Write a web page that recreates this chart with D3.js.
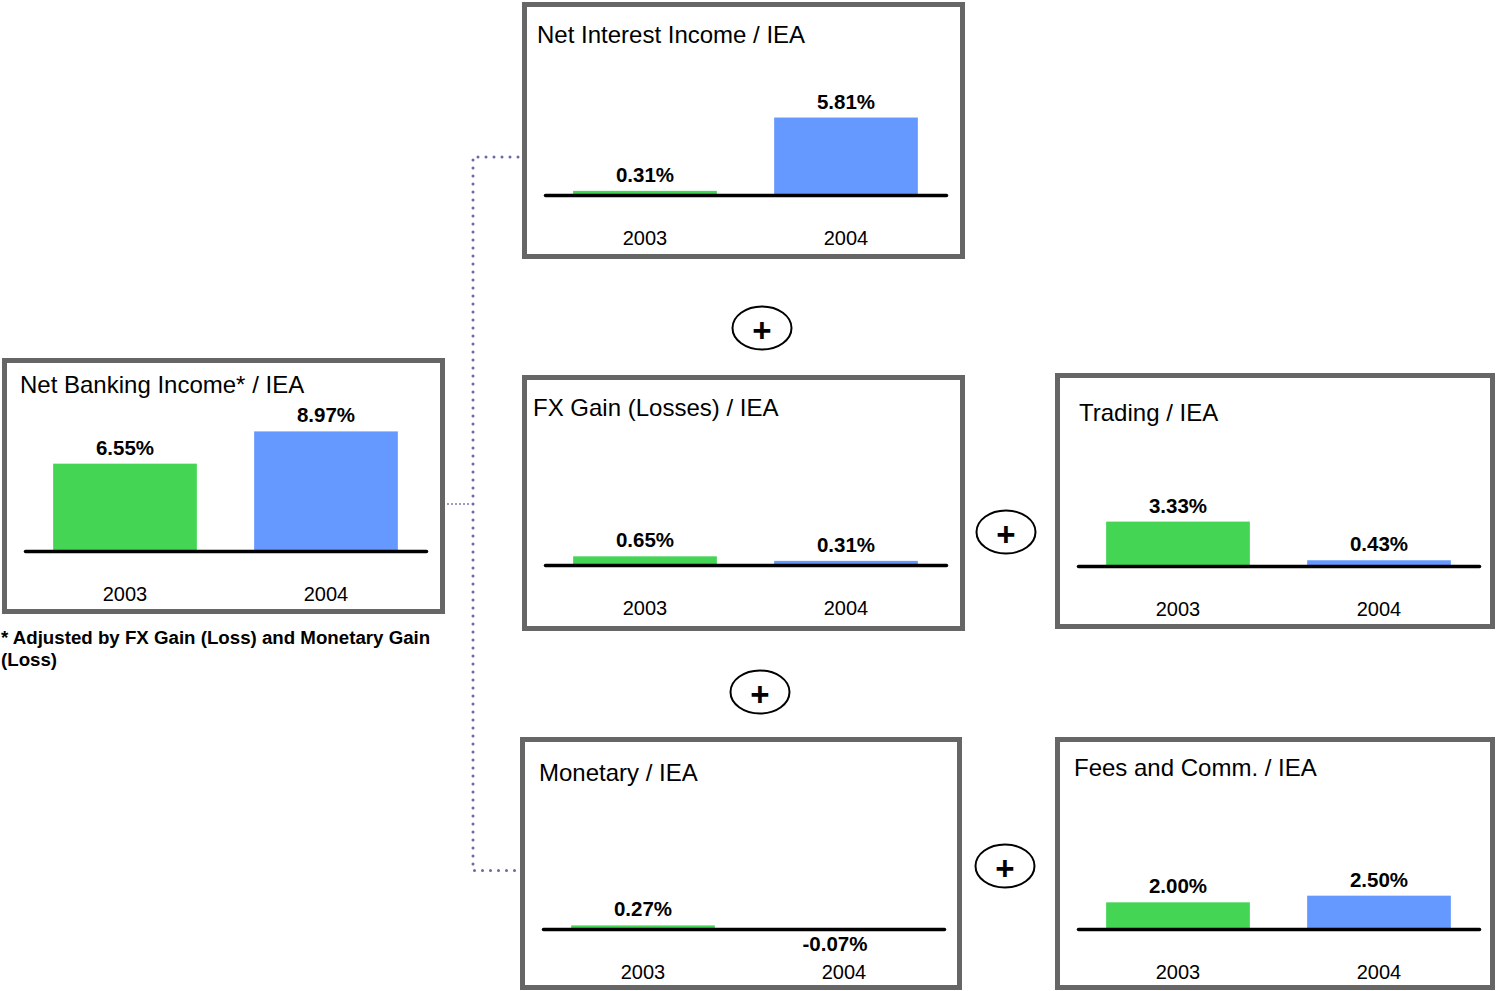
<!DOCTYPE html>
<html>
<head>
<meta charset="utf-8">
<script src="https://cdn.jsdelivr.net/npm/d3@7"></script>
<style>
body { margin: 0; background: #fff; }
svg { display: block; font-family: "Liberation Sans", Arial, sans-serif; }
</style>
</head>
<body>
<svg id="chart" width="1496" height="991"></svg>
<script>
// data
var years = ["2003", "2004"];
var titles = [
    "Net Banking Income* / IEA",
    "Net Interest Income / IEA",
    "FX Gain (Losses) / IEA",
    "Trading / IEA",
    "Monetary / IEA",
    "Fees and Comm. / IEA"
];
var nbiValues = [6.55, 8.97];
var niiValues = [0.31, 5.81];
var fxValues = [0.65, 0.31];
var tradingValues = [3.33, 0.43];
var monetaryValues = [0.27, -0.07];
var feesValues = [2.00, 2.50];
var footnote = ["* Adjusted by FX Gain (Loss) and Monetary Gain", "(Loss)"];

var barColors = ["#44d555", "#6699ff"];

// panel boxes (outer edges), title offset and axis offset
var panels = [
    {title: titles[0], values: nbiValues,      x0: 2,    y0: 358, x1: 445,  y1: 614, tx: 18, ty: 35, ay: 193},
    {title: titles[1], values: niiValues,      x0: 522,  y0: 2,   x1: 965,  y1: 259, tx: 15, ty: 41, ay: 193},
    {title: titles[2], values: fxValues,       x0: 522,  y0: 375, x1: 965,  y1: 631, tx: 11, ty: 41, ay: 190},
    {title: titles[3], values: tradingValues,  x0: 1055, y0: 373, x1: 1495, y1: 629, tx: 24, ty: 48, ay: 193},
    {title: titles[4], values: monetaryValues, x0: 520,  y0: 737, x1: 962,  y1: 990, tx: 19, ty: 44, ay: 192},
    {title: titles[5], values: feesValues,     x0: 1055, y0: 737, x1: 1495, y1: 990, tx: 19, ty: 39, ay: 192}
];

var plusSigns = [
    {cx: 762, cy: 328},
    {cx: 760, cy: 692},
    {cx: 1006, cy: 532},
    {cx: 1005, cy: 866}
];

var svg = d3.select("#chart");

// bar heights: same px-per-percent in every panel
var h = d3.scaleLinear().domain([0, 9]).range([0, 120]);

// dotted connector
svg.append("path")
    .attr("d", d3.line()([[518, 157], [473, 157], [473, 870.5], [517, 870.5]]))
    .attr("fill", "none")
    .attr("stroke", "#6a6aaa")
    .attr("stroke-width", 3)
    .attr("stroke-linecap", "round")
    .attr("stroke-dasharray", "0 8");

svg.append("line")
    .attr("x1", 447).attr("x2", 471)
    .attr("y1", 504).attr("y2", 504)
    .attr("stroke", "#7a7ab0")
    .attr("stroke-width", 1.5)
    .attr("stroke-dasharray", "2 2");

panels.forEach(function(p) {
    var g = svg.append("g");

    g.append("rect")
        .attr("x", p.x0 + 2.5)
        .attr("y", p.y0 + 2.5)
        .attr("width", p.x1 - p.x0 - 5)
        .attr("height", p.y1 - p.y0 - 5)
        .attr("fill", "#fff")
        .attr("stroke", "#666")
        .attr("stroke-width", 5);

    g.append("text")
        .attr("x", p.x0 + p.tx)
        .attr("y", p.y0 + p.ty)
        .attr("font-size", 24)
        .attr("fill", "#000")
        .text(p.title);

    var x = d3.scaleBand()
        .domain(years)
        .range([p.x0 + 23, p.x0 + 424])
        .paddingInner(0.285)
        .paddingOuter(0.14);

    var axisY = p.y0 + p.ay;
    var rows = years.map(function(y, i) { return {year: y, value: p.values[i], i: i}; });

    g.selectAll("rect.bar")
        .data(rows)
        .enter().append("rect")
        .attr("class", "bar")
        .attr("x", function(d) { return x(d.year); })
        .attr("width", x.bandwidth())
        .attr("y", function(d) { return d.value >= 0 ? axisY - h(d.value) : axisY; })
        .attr("height", function(d) { return h(Math.abs(d.value)); })
        .attr("fill", function(d) { return barColors[d.i]; });

    var axis = g.append("g")
        .attr("transform", "translate(0," + axisY + ")")
        .call(d3.axisBottom(x).tickSize(0).tickPadding(36));
    axis.attr("font-family", null).attr("font-size", null);
    axis.select(".domain")
        .attr("stroke", "#000")
        .attr("stroke-width", 3.5)
        .attr("stroke-linecap", "round");
    axis.selectAll(".tick text")
        .attr("font-size", 20)
        .attr("fill", "#000");

    g.selectAll("text.val")
        .data(rows)
        .enter().append("text")
        .attr("class", "val")
        .attr("x", function(d) { return x(d.year) + x.bandwidth() / 2; })
        .attr("dx", function(d) { return d.value < 0 ? -9 : 0; })
        .attr("y", function(d) { return d.value >= 0 ? axisY - h(d.value) - 9 : axisY + 22; })
        .attr("text-anchor", "middle")
        .attr("font-size", 20.5)
        .attr("font-weight", "bold")
        .attr("fill", "#000")
        .text(function(d) { return d.value.toFixed(2) + "%"; });
});

// plus signs between the boxes
var plus = svg.selectAll("g.plus")
    .data(plusSigns)
    .enter().append("g")
    .attr("class", "plus");
plus.append("ellipse")
    .attr("cx", function(d) { return d.cx; })
    .attr("cy", function(d) { return d.cy; })
    .attr("rx", 29.5)
    .attr("ry", 21.5)
    .attr("fill", "#fff")
    .attr("stroke", "#000")
    .attr("stroke-width", 2);
plus.append("text")
    .attr("x", function(d) { return d.cx; })
    .attr("y", function(d) { return d.cy + 2; })
    .attr("text-anchor", "middle")
    .attr("dominant-baseline", "central")
    .attr("font-size", 33)
    .attr("font-weight", "bold")
    .text("+");

svg.selectAll("text.note")
    .data(footnote)
    .enter().append("text")
    .attr("class", "note")
    .attr("x", 1)
    .attr("y", function(d, i) { return 644 + i * 22; })
    .attr("font-size", 18.7)
    .attr("font-weight", "bold")
    .text(function(d) { return d; });
</script>
</body>
</html>
